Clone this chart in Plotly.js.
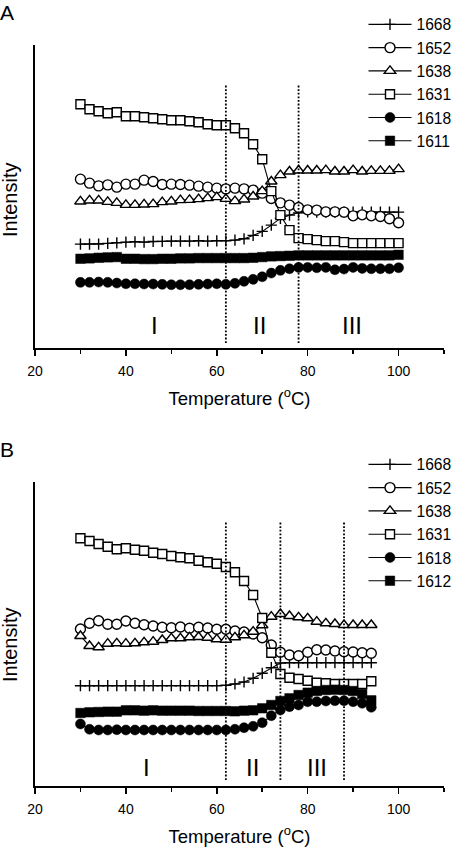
<!DOCTYPE html>
<html>
<head>
<meta charset="utf-8">
<script src="https://cdn.plot.ly/plotly-3.0.1.min.js"></script>
<style>
html,body{margin:0;padding:0;background:#ffffff;}
#chart{width:455px;height:849px;}
</style>
</head>
<body>
<div id="chart"></div>
<script>
// ---------------- data ----------------
const tempA = [30,32,34,36,38,40,42,44,46,48,50,52,54,56,58,60,62,64,66,68,70,72,74,76,78,80,82,84,86,88,90,92,94,96,98,100];
const tempB = [30,32,34,36,38,40,42,44,46,48,50,52,54,56,58,60,62,64,66,68,70,72,74,76,78,80,82,84,86,88,90,92,94];

// Panel A intensities (arbitrary units)
const a1668 = [104,104,104,104.7,105.3,106,106.3,106,106.7,106.7,107,107,107,107.3,107,107.3,107.3,108,109.3,112.7,116.7,123,129.7,133,135.3,136.3,136,136,136,136,136,136,136,136,136,136];
const a1652 = [169,165,162.3,163.3,161,164,164,168,166.7,163.7,164,163.7,163,162,161,160,159.3,160,159.3,158,155,149.7,145.3,143,140.7,138.3,138,136.3,136.3,136,132.3,133.3,132.3,131.7,129.3,125.3];
const a1638 = [146.7,147.7,147.7,146.3,145.3,143.3,143.3,143.7,144,146,146.7,148,148.3,149,150,151,149.3,147,148.7,151.7,157,166.7,173,176.7,177.7,177.7,177.7,178,176.7,176.7,178,176.7,177.3,177.3,177.3,179];
const a1631 = [244,239,237,235,236,232,232,231,230,229,228,228,227,226,224,223,223,220,215,204,189,157,133,118,110,109,108,107,107,106,105,105,105,105,105,105];
const a1618 = [65.7,65.7,66,65.7,65,64.3,64.3,64,64,63.7,63.3,63.3,63.3,63.7,64,64.3,63.7,64.7,66.7,68.7,71.3,75,77.7,79.3,80.7,80.7,80.3,80.7,78.3,79,80.7,79.7,79.3,79.3,79.3,80.3];
const a1611 = [89.3,89.7,90.3,90.7,91,89.3,89.3,89,89,89.3,89.3,89.7,89.7,90,90,90,90,90,90,90.3,91,91.7,92,92.3,92.7,92.7,92.7,92.7,92.7,92.7,92.7,92.7,92.7,92.7,92.7,93.3];

// Panel B intensities (arbitrary units)
const b1668 = [100.3,100.3,100.3,100.3,100.3,100.3,100.3,100.3,100.3,100.3,100.3,100.3,100.3,100.3,100.3,100.3,100.7,102,104,107.7,112.7,118.3,123,123.3,123.3,123.3,123.3,123.3,123.3,123.3,123.3,123.3,123.3];
const b1652 = [157,162.7,165.3,161.7,161.7,165,162.7,161.3,160,158.7,158.3,159,157.7,158.7,158,156.7,156.7,155,154,152,148.3,141,133.7,131,130.3,133.7,136.3,136,135,134.3,134,133.3,132.7];
const b1638 = [150,140,138.7,142.3,142.7,142.3,142.7,143.7,144.3,146,147.7,147.7,148.7,149,148.3,146.7,146.3,148.7,150.7,154.3,160.7,169.3,172,170,168.7,167.7,164.3,162.7,162,161,161,161,161];
const b1631 = [247.7,245,242,239.3,236.7,237.7,236.3,235.3,233.3,232,230,228.7,227.7,225.3,223.7,222.3,219,213.7,205,191,168,133.3,112,108.3,107,105.3,103.3,102.7,102,102,102,102,104.7];
const b1618 = [62,56.7,56,56,56.3,56,56,56,56,56,56,56,56,56,56,56,56,56.7,58.3,59.7,63.3,70.3,76,79.3,81,84.3,84.3,85,85.3,85.3,84.3,82.7,78.7];
const b1612 = [73,73.7,74,74.3,74.3,75.7,75.7,75.3,75.7,75.3,75.3,75.3,75.3,75,75,75,75,74.7,75.3,75.7,77.7,81,85,87.7,91,93.3,95,96,96.3,96,95,92,85.7];

const namesA = ['1668','1652','1638','1631','1618','1611'];
const namesB = ['1668','1652','1638','1631','1618','1612'];
const seriesA = [a1668,a1652,a1638,a1631,a1618,a1611];
const seriesB = [b1668,b1652,b1638,b1631,b1618,b1612];

// phase boundaries (°C) and phase labels
const boundsA = [62,78];
const boundsB = [62,74,88];
const phaseLabels = ['I','II','III'];
const phaseXA = [46.3,69.5,89.7];
const phaseXB = [44.6,67.9,82];

// ---------------- styles ----------------
const FONT = 'Liberation Sans, Arial, Helvetica, sans-serif';
const markerStyles = [
  {symbol:'cross-thin', size:8, color:'#000', line:{color:'#000', width:1.4}},
  {symbol:'circle', size:10, color:'#fff', line:{color:'#000', width:1.4}},
  {symbol:'triangle-up', size:10, color:'#fff', line:{color:'#000', width:1.4}},
  {symbol:'square', size:9, color:'#fff', line:{color:'#000', width:1.4}},
  {symbol:'circle', size:10, color:'#000', line:{color:'#000', width:0.5}},
  {symbol:'square', size:9.5, color:'#000', line:{color:'#000', width:0.5}}
];

const traces = [];
seriesA.forEach((ys, i) => {
  traces.push({
    x: tempA, y: ys, name: namesA[i], type: 'scatter', mode: 'lines+markers',
    xaxis: 'x', yaxis: 'y', legend: 'legend',
    line: {color: '#000', width: 1.1}, marker: markerStyles[i], cliponaxis: false
  });
});
seriesB.forEach((ys, i) => {
  traces.push({
    x: tempB, y: ys, name: namesB[i], type: 'scatter', mode: 'lines+markers',
    xaxis: 'x2', yaxis: 'y2', legend: 'legend2',
    line: {color: '#000', width: 1.1}, marker: markerStyles[i], cliponaxis: false
  });
});

const shapes = [];
boundsA.forEach(b => shapes.push({type:'line', xref:'x', yref:'y', x0:b, x1:b, y0:5, y1:263,
  line:{color:'#000', width:1.8, dash:'1.8px,1.8px'}}));
boundsB.forEach(b => shapes.push({type:'line', xref:'x2', yref:'y2', x0:b, x1:b, y0:6, y1:264,
  line:{color:'#000', width:1.8, dash:'1.8px,1.8px'}}));

const annotations = [];
phaseLabels.forEach((t, i) => {
  annotations.push({xref:'x', yref:'y', x: phaseXA[i], y: 23, text: t, showarrow:false,
    font:{family:FONT, size:24, color:'#000'}, xanchor:'center', yanchor:'middle'});
  annotations.push({xref:'x2', yref:'y2', x: phaseXB[i], y: 18.7, text: t, showarrow:false,
    font:{family:FONT, size:24, color:'#000'}, xanchor:'center', yanchor:'middle'});
});
// panel letters
annotations.push({xref:'paper', yref:'paper', x:-0.0880, y:786/741, text:'A', showarrow:false,
  xanchor:'left', yanchor:'top', borderpad:0, font:{family:FONT, size:21, color:'#000'}});
annotations.push({xref:'paper', yref:'paper', x:-0.0880, y:(786-437)/741, text:'B', showarrow:false,
  xanchor:'left', yanchor:'top', borderpad:0, font:{family:FONT, size:21, color:'#000'}});
// y-axis titles
annotations.push({xref:'paper', yref:'paper', x:-0.0611, y:(786-200)/741, text:'Intensity', showarrow:false,
  textangle:-90, xanchor:'center', yanchor:'middle', font:{family:FONT, size:20, color:'#000'}});
annotations.push({xref:'paper', yref:'paper', x:-0.0611, y:(786-645)/741, text:'Intensity', showarrow:false,
  textangle:-90, xanchor:'center', yanchor:'middle', font:{family:FONT, size:20, color:'#000'}});

function xAxis(domainAnchor){
  return {
    anchor: domainAnchor, range:[20,110], showline:true, linecolor:'#000', linewidth:1.6,
    ticks:'outside', ticklen:6, tickwidth:1.6, tickcolor:'#000', tick0:20, dtick:20,
    minor:{ticks:'outside', dtick:10, ticklen:4, tickwidth:1.6, tickcolor:'#000', showgrid:false},
    showgrid:false, zeroline:false, ticklabelstandoff:4,
    tickfont:{family:FONT, size:14, color:'#000'},
    title:{text:'Temperature (<sup>o</sup>C)', font:{family:FONT, size:18.5, color:'#000'}, standoff:13},
    automargin:false, fixedrange:true
  };
}
function yAxis(domain, top, anchor){
  return {
    domain: domain, anchor: anchor, range:[0, top], showline:true, linecolor:'#000', linewidth:1.6,
    ticks:'', showticklabels:false, showgrid:false, zeroline:false,
    automargin:false, fixedrange:true
  };
}

const legendBase = {
  xref:'container', yref:'container', xanchor:'left', yanchor:'top',
  bgcolor:'rgba(0,0,0,0)', borderwidth:0, traceorder:'normal', itemwidth:43,
  font:{family:FONT, size:15.6, color:'#000'}
};

const layout = {
  width:455, height:849,
  margin:{l:35, r:11, t:45, b:63, autoexpand:false},
  paper_bgcolor:'#fff', plot_bgcolor:'#fff',
  font:{family:FONT, color:'#000'},
  showlegend:true,
  xaxis: Object.assign(xAxis('y'), {domain:[0,1]}),
  yaxis: yAxis([0.5911,1], 303.3, 'x'),
  xaxis2: Object.assign(xAxis('y2'), {domain:[0,1]}),
  yaxis2: yAxis([0,0.4107], 304.3, 'x2'),
  legend: Object.assign({}, legendBase, {x:363.5/455, y:1-7.7/849}),
  legend2: Object.assign({}, legendBase, {x:363.5/455, y:1-447.7/849}),
  shapes: shapes,
  annotations: annotations
};

Plotly.newPlot('chart', traces, layout, {staticPlot:true, displayModeBar:false});
</script>
</body>
</html>
